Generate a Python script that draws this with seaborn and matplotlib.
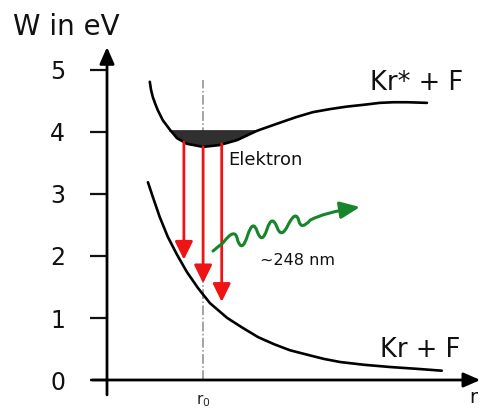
import numpy as np
import matplotlib.pyplot as plt
import seaborn as sns
from matplotlib.path import Path
from matplotlib.patches import FancyArrowPatch

# Upper potential curve (Kr* + F), r in arbitrary units, W in eV
upper_r = [0.69, 0.71, 0.74, 0.78, 0.82, 0.90, 1.02, 1.13, 1.29, 1.55, 1.82, 2.10, 2.42,
           2.79, 3.05, 3.32, 3.60, 3.87, 4.15, 4.40, 4.62, 4.84, 5.16]
upper_w = [4.81, 4.68, 4.56, 4.45, 4.35, 4.19, 4.03, 3.90, 3.81, 3.76, 3.79, 3.87, 4.02,
           4.15, 4.24, 4.32, 4.37, 4.41, 4.44, 4.47, 4.48, 4.48, 4.47]

# Lower potential curve (Kr + F)
lower_r = [0.66, 0.74, 0.85, 0.98, 1.13, 1.29, 1.47, 1.66, 1.94, 2.19, 2.44, 2.70, 2.95,
           3.30, 3.50, 3.76, 4.15, 4.56, 5.00, 5.40]
lower_w = [3.19, 2.95, 2.63, 2.31, 2.02, 1.74, 1.48, 1.24, 1.00, 0.84, 0.69, 0.575, 0.48,
           0.39, 0.34, 0.29, 0.245, 0.21, 0.18, 0.15]

# electron level (top of the filled well)
level_w = 4.02

# transitions (red arrows)
trans_r = [1.24, 1.55, 1.85]
trans_start = [3.84, 3.76, 3.81]
trans_end = [1.94, 1.56, 1.26]

r0 = 1.55
r0_top = 4.84

# photon squiggle (quadratic bezier vertices)
wave_r = [1.71, 1.79, 1.87, 2.07, 2.105, 2.175, 2.265, 2.355, 2.425, 2.50, 2.58,
          2.66, 2.74, 2.81, 2.925, 3.05, 3.095, 3.13, 3.28, 3.50, 4.08]
wave_w = [2.08, 2.15, 2.21, 2.48, 2.26, 2.04, 2.325, 2.61, 2.39, 2.18, 2.43,
          2.68, 2.47, 2.26, 2.51, 2.75, 2.565, 2.41, 2.58, 2.70, 2.79]

yticks = [0, 1, 2, 3, 4, 5]

sns.set_theme(style='white')
plt.rcParams['font.family'] = ['DejaVu Sans']
plt.rcParams['text.color'] = '#111111'

fig = plt.figure(figsize=(4.8, 4.08), dpi=100)
ax = fig.add_axes([0, 0, 1, 1])
ax.set_xlim(-1.7258, 6.0161)
ax.set_ylim(-0.4516, 6.129)

# axes drawn as arrows through the origin
for s in ['top', 'right']:
    ax.spines[s].set_visible(False)
ax.spines['left'].set_position(('data', 0))
ax.spines['bottom'].set_position(('data', 0))
ax.spines['left'].set_visible(False)
ax.spines['bottom'].set_visible(False)

axis_arrow = dict(arrowstyle='-|>,head_length=0.5,head_width=0.22', color='black',
                  lw=2, mutation_scale=20, shrinkA=0, shrinkB=0)
ax.annotate('', xy=(0, 5.37), xytext=(0, -0.24), arrowprops=axis_arrow)
ax.annotate('', xy=(6.02, 0), xytext=(-0.24, 0), arrowprops=axis_arrow)

ax.set_yticks(yticks)
ax.set_yticklabels([str(t) for t in yticks])
ax.tick_params(axis='y', direction='out', length=12, width=1.6, pad=18,
               labelsize=17, colors='#111111', left=True)
ax.set_xticks([r0])
ax.set_xticklabels([r'$\mathregular{r_0}$'])
ax.tick_params(axis='x', length=0, pad=9, labelsize=11, colors='#222222')

# r0 guide line
ax.plot([r0, r0], [0, r0_top], color='#8c8c8c', lw=1.1, ls='-.', zorder=1)

# filled well
ur = np.array(upper_r)
uw = np.array(upper_w)
ax.fill_between(ur, uw, level_w, where=uw <= level_w, interpolate=True,
                color='#303030', lw=0, zorder=2)
ax.plot([1.02, 2.42], [level_w, level_w], color='#222222', lw=1.2, zorder=2)

# potential curves
sns.lineplot(x=upper_r, y=upper_w, color='black', lw=1.9, ax=ax, zorder=3)
sns.lineplot(x=lower_r, y=lower_w, color='black', lw=1.9, ax=ax, zorder=3)

# transitions
for r, a, b in zip(trans_r, trans_start, trans_end):
    ax.annotate('', xy=(r, b), xytext=(r, a),
                arrowprops=dict(arrowstyle='-|>,head_length=0.55,head_width=0.27',
                                color='#ec1414', lw=2, mutation_scale=20,
                                shrinkA=0, shrinkB=0), zorder=4)

# photon
codes = [Path.MOVETO] + [Path.CURVE3] * (len(wave_r) - 1)
wave = Path(np.column_stack([wave_r, wave_w]), codes)
ax.add_patch(FancyArrowPatch(path=wave, arrowstyle='-|>,head_length=0.6,head_width=0.26',
                             mutation_scale=20, color='#17862b', lw=2.2, zorder=5))

# labels
ax.text(-1.52, 5.565, 'W in eV', fontsize=20, ha='left', va='baseline')
ax.text(4.24, 4.68, 'Kr* + F', fontsize=18.5, ha='left', va='baseline')
ax.text(4.40, 0.37, 'Kr + F', fontsize=18.5, ha='left', va='baseline')
ax.text(1.96, 3.55, 'Elektron', fontsize=13, ha='left', va='center')
ax.text(3.08, 1.93, '~248 nm', fontsize=11.5, ha='center', va='center')
ax.text(5.84, -0.44, 'r', fontsize=14, ha='left', va='bottom')

fig.savefig('out.png', dpi=100)
